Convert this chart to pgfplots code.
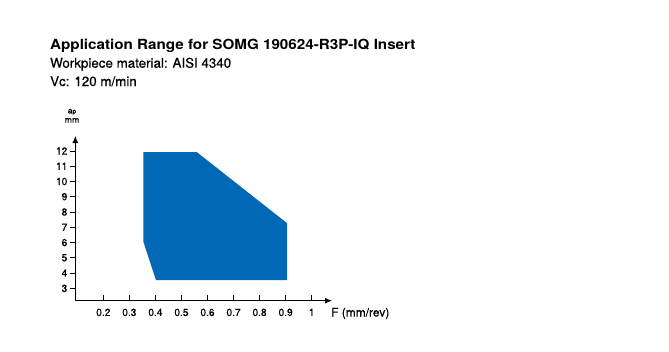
\documentclass[border=0pt]{standalone}
\usepackage{fontspec}
\setmainfont{TeX Gyre Heros}
\newfontfamily\medfont[FakeBold=0.5]{TeX Gyre Heros}
\newfontfamily\titlefont[FakeStretch=1.09]{TeX Gyre Heros Bold}
\usepackage{pgfplots}
\pgfplotsset{compat=1.18}
\usetikzlibrary{arrows.meta}
\definecolor{sandblue}{RGB}{0,104,180}
\begin{document}
\begin{tikzpicture}[x=1bp,y=1bp]
\path (0,0) rectangle (669,351);
\node[anchor=base west,inner sep=0pt,font=\titlefont\fontsize{14}{16}\selectfont] at (50,302) {Application Range for SOMG 190624-R3P-IQ Insert};
\node[anchor=base west,inner sep=0pt,font=\medfont\fontsize{13.4}{15}\selectfont] at (50,283.3) {Workpiece material: AISI 4340};
\node[anchor=base west,inner sep=0pt,font=\medfont\fontsize{13.4}{15}\selectfont] at (50,265) {Vc: 120 m/min};
\node[anchor=base,inner sep=0pt,font=\medfont\fontsize{8.8}{10}\selectfont] at (72,237.5) {a{\fontsize{7}{8}\selectfont p}};
\node[anchor=base,inner sep=0pt,font=\medfont\fontsize{8.8}{10}\selectfont] at (72,228.3) {mm};
\node[anchor=base west,inner sep=0pt,font=\medfont\fontsize{12}{14}\selectfont] at (331,34.5) {F (mm/rev)};
\begin{axis}[
  at={(75.3bp,50.3bp)}, anchor=south west,
  scale only axis, width=256.7bp, height=164.7bp,
  xmin=0.0925, xmax=1.078, ymin=2.19, ymax=12.98,
  axis lines=left,
  axis line style={line width=0.9bp,-{Latex[length=7bp,width=6bp]}},
  tick align=outside,
  major tick length=5.5bp,
  tick style={line width=0.8bp,black},
  xtick style={yshift=5.5bp},
  xtick={0.2,0.3,0.4,0.5,0.6,0.7,0.8,0.9,1},
  xticklabels={0.2,0.3,0.4,0.5,0.6,0.7,0.8,0.9,1},
  ytick={3,4,5,6,7,8,9,10,11,12},
  yticklabels={3,4,5,6,7,8,9,10,11,12},
  ticklabel style={font=\medfont\fontsize{10.2}{12}\selectfont},
  xticklabel style={yshift=1bp},
  yticklabel style={xshift=1bp},
]
\addplot[fill=sandblue,draw=none] coordinates {
 (0.3536,11.93) (0.5585,11.93) (0.906,7.26) (0.906,3.546) (0.402,3.546) (0.3536,6.06) (0.3536,11.93)} -- cycle;
\end{axis}
\end{tikzpicture}
\end{document}
